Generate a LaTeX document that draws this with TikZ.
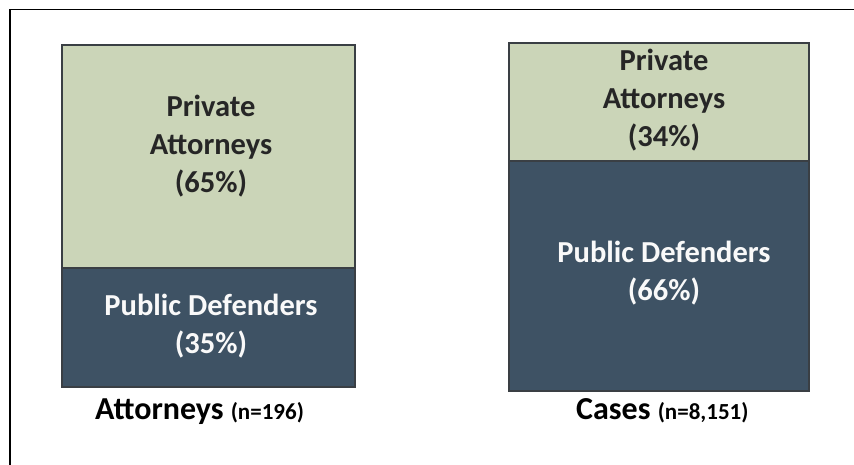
\documentclass[tikz,border=0pt]{standalone}
\usepackage{fontspec}
\setmainfont{Carlito}
\definecolor{privgreen}{HTML}{CBD5B8}
\definecolor{pubblue}{HTML}{3E5264}
\definecolor{edgegray}{HTML}{3A3F44}
\begin{document}
\begin{tikzpicture}[x=1pt,y=-1pt,
  seg/.style={draw=edgegray,line width=1.2pt},
  privseg/.style={seg,fill=privgreen},
  pubseg/.style={seg,fill=pubblue},
  darktxt/.style={font=\fontsize{30.5}{38}\selectfont\bfseries,text=black!85,align=center},
  lighttxt/.style={font=\fontsize{30.5}{38}\selectfont\bfseries,text=white!95!gray,align=center},
  captxt/.style={font=\fontsize{32}{36}\selectfont\bfseries,text=black}]
\useasboundingbox (0,0) rectangle (854,464);
\fill[white] (0,0) rectangle (854,464);
\draw[line width=1.2pt,black] (10,470) -- (10,9.5) -- (860,9.5);
% left bar
\draw[privseg] (62,45) rectangle (355,268);
\draw[pubseg] (62,268) rectangle (355,387);
\node[darktxt] (lpriv) at (211,146) {Private\\Attorneys\\(65\%)};
\node[lighttxt] (lpub) at (211,326) {Public Defenders\\(35\%)};
% right bar
\draw[privseg] (509,43) rectangle (809,161);
\draw[pubseg] (509,161) rectangle (809,391);
\node[darktxt] (rpriv) at (664,100) {Private\\Attorneys\\(34\%)};
\node[lighttxt] (rpub) at (664,273) {Public Defenders\\(66\%)};
% captions
\node[captxt,anchor=base west,inner sep=0pt] (lcap) at (95,419) {Attorneys {\fontsize{23}{26}\selectfont(n=196)}};
\node[captxt,anchor=base west,inner sep=0pt] (rcap) at (576,419) {Cases {\fontsize{23}{26}\selectfont(n=8,151)}};
\end{tikzpicture}
\end{document}
